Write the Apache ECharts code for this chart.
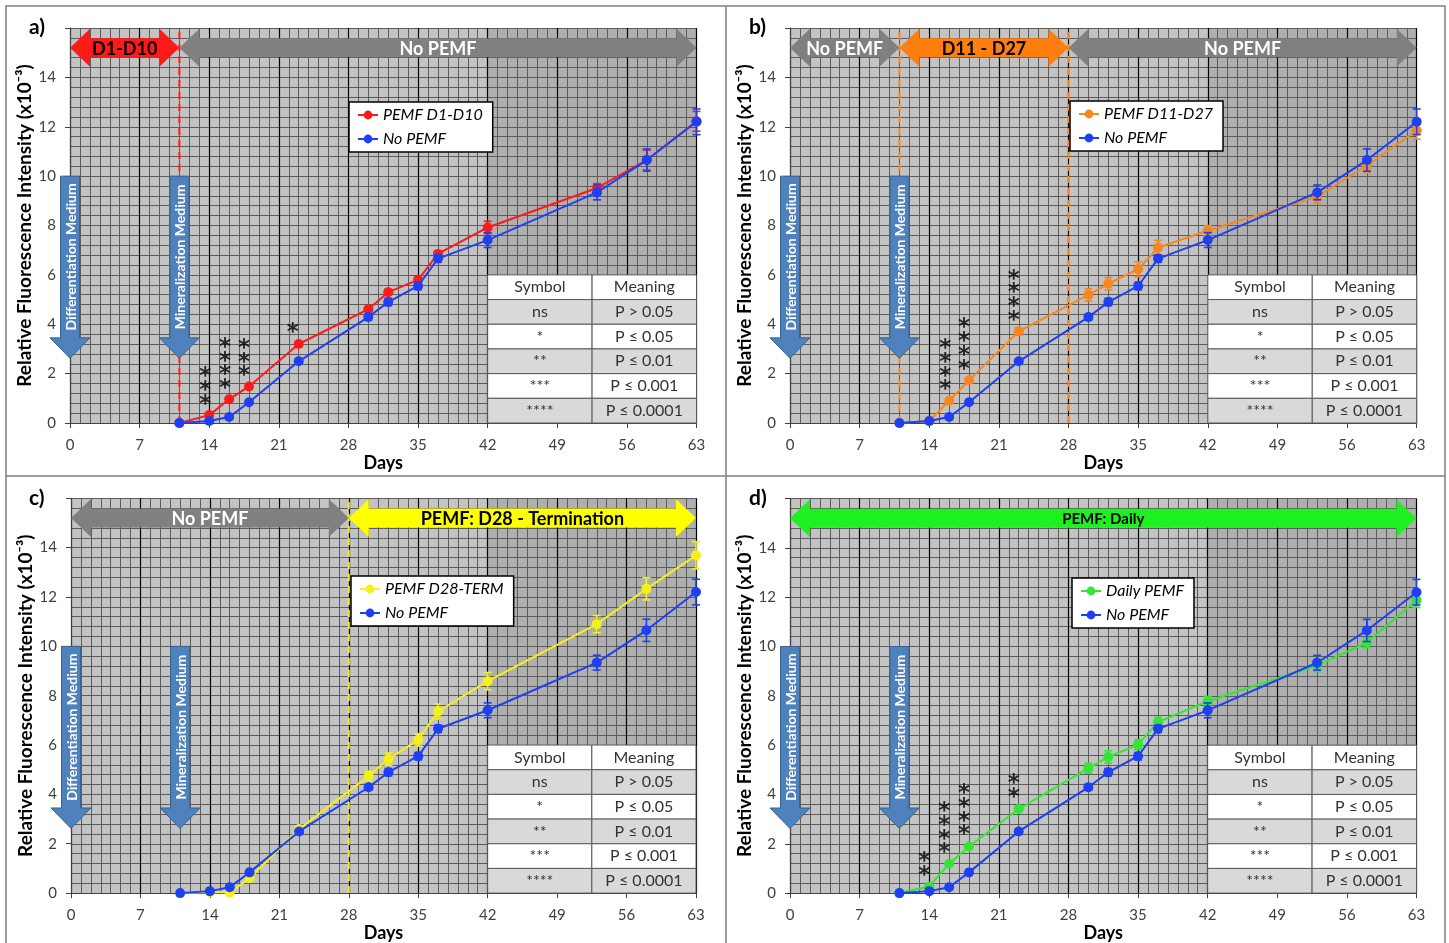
<!DOCTYPE html>
<html>
<head>
<meta charset="utf-8">
<script src="https://cdn.jsdelivr.net/npm/echarts@6/dist/echarts.min.js"></script>
<style>
html,body{margin:0;padding:0;background:#fff;}
#chart{width:1449px;height:943px;}
</style>
</head>
<body>
<div id="chart"></div>
<script>
// ---------------- DATA ----------------
const days = [11, 14, 16, 18, 23, 30, 32, 35, 37, 42, 53, 58, 63];

const noPemf      = [0, 0.08, 0.24, 0.84, 2.50, 4.29, 4.90, 5.55, 6.66, 7.41, 9.34, 10.65, 12.20];
const noPemfErr   = [0.02, 0.05, 0.05, 0.08, 0.10, 0.12, 0.15, 0.15, 0.15, 0.30, 0.30, 0.45, 0.52];

const pemfD1D10    = [0, 0.32, 0.96, 1.48, 3.20, 4.61, 5.30, 5.80, 6.85, 7.92, 9.52, 10.65, 12.22];
const pemfD1D10Err = [0.02, 0.05, 0.05, 0.08, 0.10, 0.10, 0.10, 0.12, 0.12, 0.25, 0.18, 0.40, 0.40];

const pemfD11D27    = [0, 0.08, 0.90, 1.73, 3.71, 5.19, 5.64, 6.23, 7.10, 7.80, 9.17, 10.43, 11.85];
const pemfD11D27Err = [0.02, 0.05, 0.08, 0.10, 0.15, 0.25, 0.25, 0.30, 0.30, 0.20, 0.25, 0.30, 0.35];

const pemfD28Term    = [0, 0.04, 0.02, 0.60, 2.60, 4.74, 5.43, 6.21, 7.36, 8.59, 10.90, 12.33, 13.69];
const pemfD28TermErr = [0.02, 0.03, 0.05, 0.10, 0.10, 0.20, 0.25, 0.25, 0.30, 0.35, 0.35, 0.45, 0.55];

const dailyPemf    = [0, 0.27, 1.19, 1.89, 3.41, 5.06, 5.52, 6.02, 6.93, 7.78, 9.23, 10.15, 11.88];
const dailyPemfErr = [0.02, 0.05, 0.08, 0.08, 0.10, 0.20, 0.25, 0.20, 0.20, 0.20, 0.25, 0.20, 0.30];

// significance marks: day, value (centre of stack), number of stars
const sigDaysA = [13.6, 15.6, 17.5, 22.4];
const sigValsA = [1.54, 2.45, 2.69, 3.88];
const sigStarsA = [3, 4, 3, 1];
const sigDaysB = [15.6, 17.5, 22.5];
const sigValsB = [2.40, 3.24, 5.22];
const sigStarsB = [4, 4, 4];
const sigDaysC = [];
const sigValsC = [];
const sigStarsC = [];
const sigDaysD = [13.5, 15.5, 17.5, 22.5];
const sigValsD = [1.22, 2.69, 3.42, 4.38];
const sigStarsD = [2, 4, 4, 2];

// treatment phases (day boundaries + labels)
const phaseBoundsA = [0, 11, 63];
const phaseLabelsA = ['D1-D10', 'No PEMF'];
const phaseBoundsB = [0, 11, 28, 63];
const phaseLabelsB = ['No PEMF', 'D11 - D27', 'No PEMF'];
const phaseBoundsC = [0, 28, 63];
const phaseLabelsC = ['No PEMF', 'PEMF: D28 - Termination'];
const phaseBoundsD = [0, 63];
const phaseLabelsD = ['PEMF: Daily'];

const dashedDaysA = [11];
const dashedDaysB = [11, 28];
const dashedDaysC = [28];
const dashedDaysD = [];

const mediumDays = [0, 11];
const mediumLabels = ['Differentiation Medium', 'Mineralization Medium'];

const tableSymbols  = ['Symbol', 'ns', '*', '**', '***', '****'];
const tableMeanings = ['Meaning', 'P > 0.05', 'P \u2264 0.05', 'P \u2264 0.01', 'P \u2264 0.001', 'P \u2264 0.0001'];

const seriesNames = ['PEMF D1-D10', 'PEMF D11-D27', 'PEMF D28-TERM', 'Daily PEMF'];
const noPemfName = 'No PEMF';
const panelLabels = ['a)', 'b)', 'c)', 'd)'];
const xName = 'Days';
const yName = 'Relative Fluorescence Intensity (x10\u207B\u00B3)';

// ---------------- STYLE / LAYOUT ----------------
const FONT = 'Lato, "Liberation Sans", sans-serif';
const BLUE = '#1f3ff5';
const treatColors = ['#ff1a1a', '#f7861e', '#f4f01a', '#33e633'];
const GRAY_ARROW = '#808080';
const grids = [
  {left: 70, top: 28, width: 626.5, height: 395},
  {left: 790, top: 28, width: 626.7, height: 395},
  {left: 71, top: 498.3, width: 625, height: 395},
  {left: 790, top: 498.5, width: 626.5, height: 395}
];
const titlePos = [[24, 12], [744, 12], [24, 483], [744, 483]];
const legendPos = [[349, 102], [1070, 101], [351, 576], [1072, 578]];
const phaseFills = [
  [treatColors[0], GRAY_ARROW],
  [GRAY_ARROW, '#ff7f0e', GRAY_ARROW],
  [GRAY_ARROW, '#ffff00'],
  ['#1ff01f']
];
const phaseText = [
  ['#000', '#fff'],
  ['#fff', '#000', '#fff'],
  ['#fff', '#000'],
  ['#000']
];
const phaseFont = [18, 18, 18, 15];
const dashColors = [treatColors[0], '#f7861e', '#f4f01a', '#000'];

const treatData = [pemfD1D10, pemfD11D27, pemfD28Term, dailyPemf];
const treatErr = [pemfD1D10Err, pemfD11D27Err, pemfD28TermErr, dailyPemfErr];
const sigDays = [sigDaysA, sigDaysB, sigDaysC, sigDaysD];
const sigVals = [sigValsA, sigValsB, sigValsC, sigValsD];
const sigStars = [sigStarsA, sigStarsB, sigStarsC, sigStarsD];
const phaseBounds = [phaseBoundsA, phaseBoundsB, phaseBoundsC, phaseBoundsD];
const phaseLabels = [phaseLabelsA, phaseLabelsB, phaseLabelsC, phaseLabelsD];
const dashedDays = [dashedDaysA, dashedDaysB, dashedDaysC, dashedDaysD];

function errSeries(gi, vals, errs, color, z) {
  return {
    type: 'custom', xAxisIndex: gi, yAxisIndex: gi, z: z, silent: true,
    data: days.map((d, i) => [d, vals[i] - errs[i], vals[i] + errs[i]]),
    encode: {x: 0, y: [1, 2]},
    renderItem: function (params, api) {
      const lo = api.coord([api.value(0), api.value(1)]);
      const hi = api.coord([api.value(0), api.value(2)]);
      const w = 4;
      const st = {stroke: color, lineWidth: 1.6};
      return {type: 'group', children: [
        {type: 'line', shape: {x1: lo[0], y1: lo[1], x2: hi[0], y2: hi[1]}, style: st},
        {type: 'line', shape: {x1: lo[0] - w, y1: lo[1], x2: lo[0] + w, y2: lo[1]}, style: st},
        {type: 'line', shape: {x1: hi[0] - w, y1: hi[1], x2: hi[0] + w, y2: hi[1]}, style: st}
      ]};
    }
  };
}

function lineSeries(gi, name, vals, color, z) {
  return {
    type: 'line', name: name, xAxisIndex: gi, yAxisIndex: gi, z: z,
    data: days.map((d, i) => [d, vals[i]]),
    symbol: 'circle', symbolSize: 10, showSymbol: true,
    lineStyle: {color: color, width: 2},
    itemStyle: {color: color},
    animation: false
  };
}

function bgSeries(gi) {
  return {
    type: 'custom', xAxisIndex: gi, yAxisIndex: gi, z: 0, silent: true,
    data: [[0, 0]], encode: {x: 0, y: 1},
    renderItem: function (params, api) {
      const p0 = api.coord([0, 0]), p1 = api.coord([63, 16]);
      const d0 = api.coord([42, 16]), d1 = api.coord([63, 6]);
      return {type: 'group', children: [
        {type: 'rect', shape: {x: p0[0], y: p1[1], width: p1[0] - p0[0], height: p0[1] - p1[1]}, style: {fill: '#c3c3c3'}},
        {type: 'rect', shape: {x: d0[0], y: d0[1], width: d1[0] - d0[0], height: d1[1] - d0[1]}, style: {fill: '#afafaf'}}
      ]};
    }
  };
}

function dashSeries(gi) {
  const dd = dashedDays[gi];
  return {
    type: 'custom', xAxisIndex: gi, yAxisIndex: gi, z: 2.5, silent: true,
    data: dd.map(d => [d, 0]), encode: {x: 0, y: 1},
    renderItem: function (params, api) {
      const a = api.coord([api.value(0), 0]), b = api.coord([api.value(0), 16]);
      return {type: 'line', shape: {x1: a[0], y1: a[1], x2: b[0], y2: b[1]},
        style: {stroke: dashColors[gi], lineWidth: 2, lineDash: [7, 5]}};
    }
  };
}

function bandSeries(gi) {
  const bounds = phaseBounds[gi], labels = phaseLabels[gi];
  return {
    type: 'custom', xAxisIndex: gi, yAxisIndex: gi, z: 6, silent: true,
    data: labels.map((l, i) => [bounds[i], bounds[i + 1], 15.2]),
    encode: {x: [0, 1], y: 2},
    renderItem: function (params, api) {
      const i = params.dataIndex;
      const a = api.coord([api.value(0), api.value(2)]);
      const b = api.coord([api.value(1), api.value(2)]);
      const y = a[1], x0 = a[0], x1 = b[0];
      const hl = 20, hh = 19, bh = 9.5;
      return {type: 'group', children: [
        {type: 'polygon', shape: {points: [[x0, y], [x0 + hl, y - hh], [x0 + hl, y - bh], [x1 - hl, y - bh], [x1 - hl, y - hh], [x1, y], [x1 - hl, y + hh], [x1 - hl, y + bh], [x0 + hl, y + bh], [x0 + hl, y + hh]]},
          style: {fill: phaseFills[gi][i]}},
        {type: 'text', x: (x0 + x1) / 2, y: y + 1,
          style: {text: labels[i], fill: phaseText[gi][i], font: 'bold ' + phaseFont[gi] + 'px ' + FONT, align: 'center', verticalAlign: 'middle'}}
      ]};
    }
  };
}

function mediumSeries(gi) {
  return {
    type: 'custom', xAxisIndex: gi, yAxisIndex: gi, z: 7, silent: true,
    data: mediumDays.map(d => [d, 10]), encode: {x: 0, y: 1},
    renderItem: function (params, api) {
      const i = params.dataIndex;
      const top = api.coord([api.value(0), 10]);
      const hs = api.coord([api.value(0), 3.45]);
      const tip = api.coord([api.value(0), 2.62]);
      const x = top[0], bw = 9.5, hw = 20;
      return {type: 'group', children: [
        {type: 'polygon', shape: {points: [[x - bw, top[1]], [x + bw, top[1]], [x + bw, hs[1]], [x + hw, hs[1]], [x, tip[1]], [x - hw, hs[1]], [x - bw, hs[1]]]},
          style: {fill: '#4f81bd', stroke: '#3a6290', lineWidth: 1}},
        {type: 'text', x: x + 1, y: (top[1] + hs[1]) / 2, rotation: Math.PI / 2,
          style: {text: mediumLabels[i], fill: '#fff', font: 'bold 14px ' + FONT, align: 'center', verticalAlign: 'middle'}}
      ]};
    }
  };
}

function tableSeries(gi) {
  return {
    type: 'custom', xAxisIndex: gi, yAxisIndex: gi, z: 2, silent: true,
    data: tableSymbols.map((s, i) => [42, 6 - i]), encode: {x: 0, y: 1},
    renderItem: function (params, api) {
      const i = params.dataIndex;
      const tl = api.coord([42, 6 - i]);
      const mid = api.coord([52.5, 5 - i]);
      const br = api.coord([63, 5 - i]);
      const fill = (i % 2 === 1) ? '#d9d9d9' : '#ffffff';
      const st = {fill: fill, stroke: '#5a5a5a', lineWidth: 1};
      const h = br[1] - tl[1];
      const tf = '16px ' + FONT;
      return {type: 'group', children: [
        {type: 'rect', shape: {x: tl[0], y: tl[1], width: mid[0] - tl[0], height: h}, style: st},
        {type: 'rect', shape: {x: mid[0], y: tl[1], width: br[0] - mid[0], height: h}, style: st},
        {type: 'text', x: (tl[0] + mid[0]) / 2, y: tl[1] + h / 2, style: {text: tableSymbols[i], fill: '#333', font: tf, align: 'center', verticalAlign: 'middle'}},
        {type: 'text', x: (mid[0] + br[0]) / 2, y: tl[1] + h / 2, style: {text: tableMeanings[i], fill: '#333', font: tf, align: 'center', verticalAlign: 'middle'}}
      ]};
    }
  };
}

function sigSeries(gi) {
  return {
    type: 'scatter', xAxisIndex: gi, yAxisIndex: gi, z: 8, silent: true,
    symbolSize: 0,
    data: sigDays[gi].map((d, i) => [d, sigVals[gi][i], sigStars[gi][i]]),
    label: {
      show: true, position: 'inside', offset: [0, 6],
      formatter: p => Array(p.value[2]).fill('*').join('\n'),
      fontFamily: '"DejaVu Sans", sans-serif', fontSize: 23, fontWeight: 'bold', lineHeight: 13.7, color: '#000'
    },
    animation: false
  };
}

const xAxes = [], yAxes = [], series = [], legends = [], titles = [];
for (let gi = 0; gi < 4; gi++) {
  xAxes.push({
    gridIndex: gi, type: 'value', min: 0, max: 63, interval: 7, z: 1,
    name: xName, nameLocation: 'middle', nameGap: 30,
    nameTextStyle: {fontFamily: FONT, fontSize: 18, fontWeight: 'bold', color: '#000'},
    axisLine: {show: true, onZero: false, lineStyle: {color: '#404040', width: 1}},
    axisTick: {show: true, length: 5, lineStyle: {color: '#404040'}},
    axisLabel: {fontFamily: FONT, fontSize: 15, color: '#404040', margin: 15},
    splitLine: {show: true, lineStyle: {color: '#000', width: 1.2}},
    minorTick: {show: false, splitNumber: 7},
    minorSplitLine: {show: true, lineStyle: {color: '#5c5c5c', width: 1}}
  });
  yAxes.push({
    gridIndex: gi, type: 'value', min: 0, max: 16, interval: 2, z: 1,
    name: yName, nameLocation: 'middle', nameGap: 36,
    nameTextStyle: {fontFamily: FONT, fontSize: 19, fontWeight: 'bold', color: '#000'},
    axisLine: {show: true, lineStyle: {color: '#404040', width: 1}},
    axisTick: {show: true, length: 5, lineStyle: {color: '#404040'}},
    axisLabel: {fontFamily: FONT, fontSize: 15, color: '#404040', margin: 14, formatter: v => (v === 16 ? '' : String(v))},
    splitLine: {show: true, lineStyle: {color: '#5c5c5c', width: 1}},
    minorTick: {show: false, splitNumber: 5},
    minorSplitLine: {show: true, lineStyle: {color: '#5c5c5c', width: 1}}
  });
  series.push(bgSeries(gi));
  series.push(tableSeries(gi));
  series.push(dashSeries(gi));
  series.push(errSeries(gi, treatData[gi], treatErr[gi], treatColors[gi], 3));
  series.push(lineSeries(gi, seriesNames[gi], treatData[gi], treatColors[gi], 3));
  series.push(errSeries(gi, noPemf, noPemfErr, BLUE, 4));
  series.push(lineSeries(gi, noPemfName, noPemf, BLUE, 4));
  series.push(bandSeries(gi));
  series.push(mediumSeries(gi));
  series.push(sigSeries(gi));
  legends.push({
    data: [seriesNames[gi], noPemfName], orient: 'vertical',
    left: legendPos[gi][0], top: legendPos[gi][1],
    backgroundColor: '#fff', borderColor: '#000', borderWidth: 1.5,
    padding: [5, 10, 5, 8], itemGap: 8, itemWidth: 20, itemHeight: 11,
    selectedMode: false, z: 9,
    textStyle: {fontFamily: FONT, fontSize: 16, fontStyle: 'italic', color: '#000'}
  });
  titles.push({
    text: panelLabels[gi], left: titlePos[gi][0], top: titlePos[gi][1],
    textStyle: {fontFamily: FONT, fontSize: 21, fontWeight: 'bold', color: '#000'}
  });
}

const chart = echarts.init(document.getElementById('chart'), null, {renderer: 'canvas'});
chart.setOption({
  backgroundColor: '#fff',
  animation: false,
  title: titles,
  legend: legends,
  grid: grids.map(g => Object.assign({show: false, containLabel: false}, g)),
  xAxis: xAxes,
  yAxis: yAxes,
  series: series,
  graphic: [
    {type: 'rect', shape: {x: 6, y: 6, width: 1439, height: 945}, style: {fill: 'none', stroke: '#808080', lineWidth: 1.5}, silent: true},
    {type: 'line', shape: {x1: 726, y1: 6, x2: 726, y2: 943}, style: {stroke: '#808080', lineWidth: 1.5}, silent: true},
    {type: 'line', shape: {x1: 6, y1: 476, x2: 1445, y2: 476}, style: {stroke: '#808080', lineWidth: 1.5}, silent: true}
  ]
});
</script>
</body>
</html>
